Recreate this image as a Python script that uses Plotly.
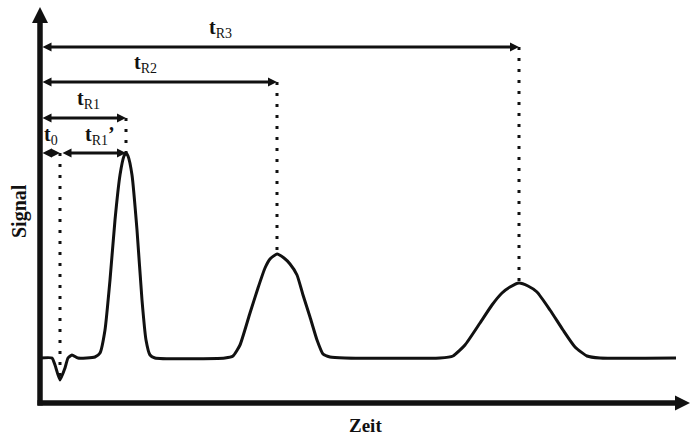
import plotly.graph_objects as go

# Chromatogram curve (arbitrary time / signal units)
time = [0, 2.4, 3, 4, 5, 5.6, 6.4, 7.6, 11, 12, 13, 14, 15, 16, 16.8, 17.2, 17.6, 18.4, 19.4, 20.4, 21.2, 22, 23,
        37, 38.6, 40, 42, 43.6, 45, 46, 47.4, 48.8, 50, 51.4, 52.6, 54, 55.4, 56.6, 58, 61,
        80, 82.6, 85, 88, 90.4, 92.4, 94, 95.8, 97.6, 99.4, 102, 104.6, 107, 109.4, 112, 127.2]
signal = [0, 0, -3.5, -11, -5, 0, 1.5, 0, 0.5, 2.5, 14, 39, 69, 91.5, 101, 102.5, 101, 91.5, 64, 29, 9, 1.5, 0,
          0, 1, 6.5, 22.5, 35, 45, 49.5, 52, 50, 47, 41.5, 31.5, 20.5, 9, 2, 0.5, 0,
          0, 1, 6.5, 17.5, 26.5, 32.5, 35.5, 37.5, 36, 33, 24, 14, 5.5, 1, 0, 0]

# Retention markers
marker_labels = ["<b>t</b><sub>0</sub>", "<b>t</b><sub>R1</sub>", "<b>t</b><sub>R2</sub>", "<b>t</b><sub>R3</sub>"]
marker_times = [4.0, 17.2, 47.4, 95.8]
marker_peaks = [-11, 102.5, 52, 37.5]
label_prime = "<b>t</b><sub>R1</sub><b>’</b>"

X_RANGE = [-8, 130]
Y_RANGE = [-39.5, 179]
AXIS_Y = -22.5
AXIS_TOP = 175.5
AXIS_RIGHT = 130
levels = [102.5, 120, 138, 155.5]

FONT = "Liberation Serif"
INK = "#111"

fig = go.Figure()


def line(xs, ys, width, dash=None):
    fig.add_trace(go.Scatter(x=xs, y=ys, mode="lines",
                             line=dict(color=INK, width=width, dash=dash),
                             hoverinfo="skip", showlegend=False))


def head(x, y, symbol, size):
    fig.add_trace(go.Scatter(x=[x], y=[y], mode="markers",
                             marker=dict(symbol=symbol, size=size, color=INK, line=dict(width=0)),
                             hoverinfo="skip", showlegend=False))


# curve
fig.add_trace(go.Scatter(x=time, y=signal, mode="lines",
                         line=dict(color=INK, width=3, shape="spline", smoothing=0.5),
                         hoverinfo="skip", showlegend=False))

# dotted verticals
for t, pk, lv in zip(marker_times, marker_peaks, levels):
    line([t, t], [lv, pk], 3, "3px,8px")

# axes
line([0, 0], [AXIS_Y - 1.2, AXIS_TOP - 6], 5.5)
head(0, AXIS_TOP, "arrow-up", 16)
line([-0.5, AXIS_RIGHT - 2.5], [AXIS_Y, AXIS_Y], 5.5)
head(AXIS_RIGHT, AXIS_Y, "arrow-right", 15)

# dimension arrows
spans = [(0.5, 4.0, levels[0]), (4.5, 17.2, levels[0]), (0.5, 17.2, levels[1]),
         (0.5, 47.4, levels[2]), (0.5, 95.8, levels[3])]
for a, b, lv in spans:
    line([a + 1, b - 1], [lv, lv], 2.8)
    head(a, lv, "arrow-left", 9)
    head(b, lv, "arrow-right", 9)

# labels
label_pos = [(2.2, 104), (9.6, 122), (21, 140), (36, 157.5)]
ann = []
for txt, (lx, ly) in zip(marker_labels, label_pos):
    ann.append(dict(x=lx, y=ly, xref="x", yref="y", text=txt, showarrow=False,
                    yanchor="bottom", font=dict(family=FONT, size=20, color=INK)))
ann.append(dict(x=12.0, y=104, xref="x", yref="y", text=label_prime, showarrow=False,
                yanchor="bottom", font=dict(family=FONT, size=20, color=INK)))

# axis titles
ann.append(dict(x=-4.2, y=73.5, xref="x", yref="y", text="<b>Signal</b>", textangle=-90,
                showarrow=False, font=dict(family=FONT, size=20, color=INK)))
ann.append(dict(x=65, y=-33.5, xref="x", yref="y", text="<b>Zeit</b>",
                showarrow=False, font=dict(family=FONT, size=19, color=INK)))

fig.update_layout(
    width=690, height=437,
    margin=dict(l=0, r=0, t=0, b=0),
    paper_bgcolor="white", plot_bgcolor="white",
    xaxis=dict(range=X_RANGE, visible=False, fixedrange=True),
    yaxis=dict(range=Y_RANGE, visible=False, fixedrange=True),
    annotations=ann,
    showlegend=False,
)

fig.write_html("out.html")
